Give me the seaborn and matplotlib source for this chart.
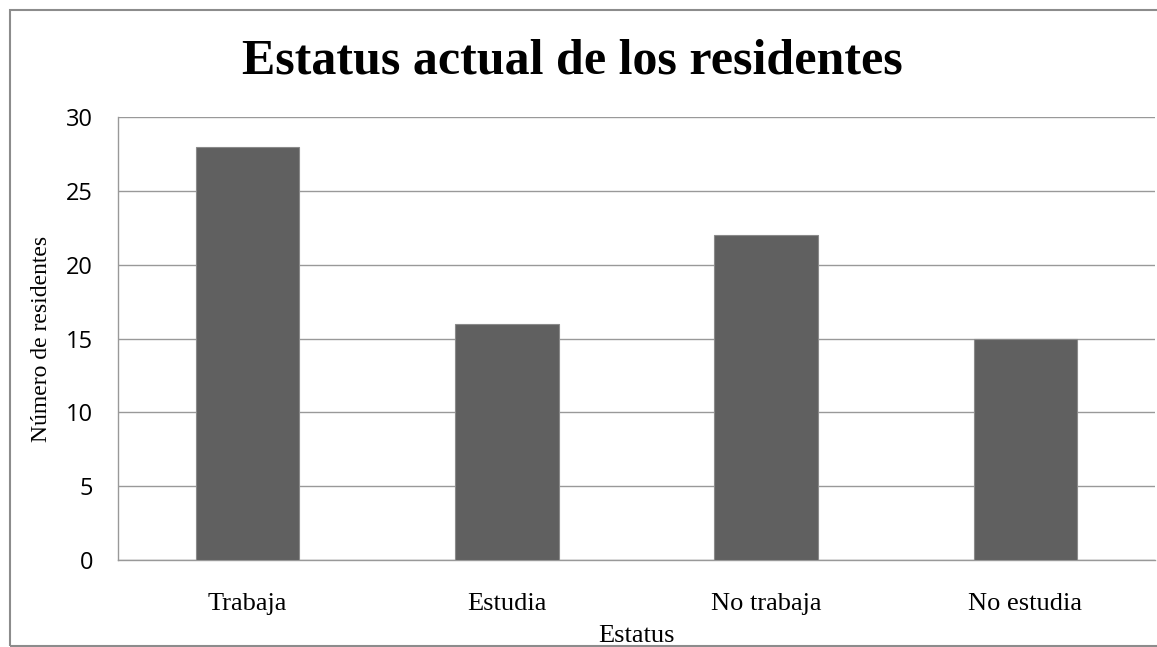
import matplotlib
matplotlib.use('Agg')
import matplotlib.pyplot as plt
from matplotlib.patches import Rectangle
import seaborn as sns
import pandas as pd

# data
categorias = ['Trabaja', 'Estudia', 'No trabaja', 'No estudia']
residentes = [28, 16, 22, 15]

df = pd.DataFrame({'Estatus': categorias, 'Residentes': residentes})

sns.set_style('white')
plt.rcParams['font.family'] = ['Liberation Serif', 'DejaVu Serif']
plt.rcParams['text.color'] = 'black'
plt.rcParams['axes.labelcolor'] = 'black'
plt.rcParams['xtick.labelcolor'] = 'black'
plt.rcParams['ytick.labelcolor'] = 'black'

fig = plt.figure(figsize=(11.57, 6.47), dpi=100)
ax = fig.add_axes([118 / 1157, 1 - 560 / 647, (1155 - 118) / 1157, (560 - 117) / 647])

sns.barplot(data=df, x='Estatus', y='Residentes', color='#606060', width=0.4,
            edgecolor='#8a8a8a', linewidth=0.8, saturation=1, ax=ax, zorder=3)

grid_gray = '#999999'
ax.set_ylim(0, 30)
ax.set_xlim(-0.5, len(categorias) - 0.5)
ax.set_yticks(range(0, 31, 5))
ax.yaxis.grid(True, color=grid_gray, linewidth=1)
ax.set_axisbelow(True)
for side in ['top', 'right']:
    ax.spines[side].set_visible(False)
for side in ['left', 'bottom']:
    ax.spines[side].set_color(grid_gray)
    ax.spines[side].set_linewidth(1)

# category boundary ticks on x, no ticks at the bar centers
ax.set_xticks([i - 0.5 for i in range(len(categorias) + 1)], minor=True)
ax.tick_params(axis='x', which='major', length=0, pad=24, labelsize=19)
ax.tick_params(axis='x', which='minor', length=6, width=1, color=grid_gray, direction='out')
ax.tick_params(axis='y', length=6, width=1, color=grid_gray, direction='out', pad=12)
for lab in ax.get_yticklabels():
    lab.set_fontfamily('Open Sans')
    lab.set_fontsize(17)

ax.set_xlabel('Estatus', fontsize=19, labelpad=7)
ax.set_ylabel('Número de residentes', fontsize=17, labelpad=10)

fig.text(0.495, 1 - 62 / 647, 'Estatus actual de los residentes', ha='center', va='center',
         fontsize=36, fontweight='bold')

# outer chart frame, cut off on the right like in the original
fig.patches.append(Rectangle((10 / 1157, 1 / 647), 1.2, 636 / 647, transform=fig.transFigure,
                             fill=False, edgecolor='#8c8c8c', linewidth=1.5, clip_on=False))

fig.savefig('out.png', dpi=100)
